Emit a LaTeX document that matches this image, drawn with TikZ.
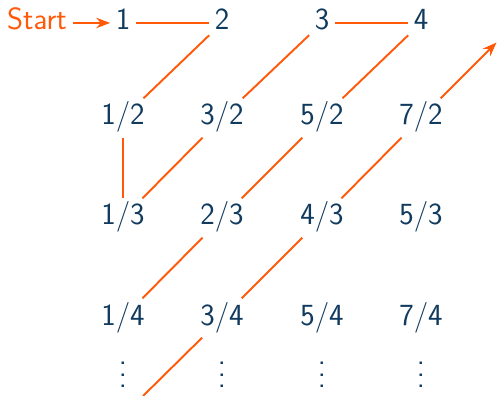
\documentclass[tikz,border=0pt]{standalone}
\usepackage{xcolor}
\usepackage{tikz}
\usetikzlibrary{arrows.meta}

\definecolor{navy}{HTML}{103A5E}
\definecolor{zigorange}{HTML}{FF5A0A}
\newcommand{\colvdots}{\vbox{\baselineskip=6.4pt \lineskiplimit=0pt \hbox{.}\hbox{.}\hbox{.}}}

\begin{document}
\begin{tikzpicture}[
    >=Stealth,
    frac/.style={anchor=base, inner xsep=3pt, inner ysep=3pt, text height=12pt,
                 text depth=4pt, text=navy, font=\sffamily\fontsize{17.5}{21}\selectfont},
    dots/.style={text=navy, inner sep=0pt, font=\sffamily\fontsize{17.5}{21}\selectfont},
    zig/.style={draw=zigorange, line width=1.1pt},
]
    \useasboundingbox (0,0) rectangle (9.94,-7.92);

    % ── Row 1: integers ───────────────────────────
    \node[frac] (n1) at (2.46,-0.6) {1};
    \node[frac] (n2) at (4.44,-0.6) {2};
    \node[frac] (n3) at (6.44,-0.6) {3};
    \node[frac] (n4) at (8.42,-0.6) {4};

    % ── Row 2: halves ─────────────────────────────
    \node[frac] (h1) at (2.46,-2.5) {1/2};
    \node[frac] (h3) at (4.44,-2.5) {3/2};
    \node[frac] (h5) at (6.44,-2.5) {5/2};
    \node[frac] (h7) at (8.42,-2.5) {7/2};

    % ── Row 3: thirds ─────────────────────────────
    \node[frac] (t1) at (2.46,-4.5) {1/3};
    \node[frac] (t2) at (4.44,-4.5) {2/3};
    \node[frac] (t4) at (6.44,-4.5) {4/3};
    \node[frac] (t5) at (8.42,-4.5) {5/3};

    % ── Row 4: quarters ───────────────────────────
    \node[frac] (q1) at (2.46,-6.5) {1/4};
    \node[frac] (q3) at (4.44,-6.5) {3/4};
    \node[frac] (q5) at (6.44,-6.5) {5/4};
    \node[frac] (q7) at (8.42,-6.5) {7/4};

    % ── Continuation dots ─────────────────────────
    \node[dots] (d1) at (2.46,-7.5) {\colvdots};
    \node[dots] (d2) at (4.44,-7.5) {\colvdots};
    \node[dots] (d3) at (6.44,-7.5) {\colvdots};
    \node[dots] (d4) at (8.42,-7.5) {\colvdots};

    % ── Start marker ──────────────────────────────
    \node[frac, anchor=base east, text=zigorange] (start) at (1.45,-0.6) {Start};
    \draw[zig, ->] (start) -- (n1);

    % ── Zig-zag enumeration ───────────────────────
    \coordinate (inlow) at (2.86,-7.92);
    \coordinate (outhigh) at (9.93,-0.85);
    \draw[zig] (n1) -- (n2);
    \draw[zig] (n2) -- (h1);
    \draw[zig] (h1) -- (t1);
    \draw[zig] (t1) -- (h3);
    \draw[zig] (h3) -- (n3);
    \draw[zig] (n3) -- (n4);
    \draw[zig] (n4) -- (h5);
    \draw[zig] (h5) -- (t2);
    \draw[zig] (t2) -- (q1);
    \draw[zig] (inlow) -- (q3);
    \draw[zig] (q3) -- (t4);
    \draw[zig] (t4) -- (h7);
    \draw[zig, ->] (h7) -- (outhigh);
\end{tikzpicture}
\end{document}
